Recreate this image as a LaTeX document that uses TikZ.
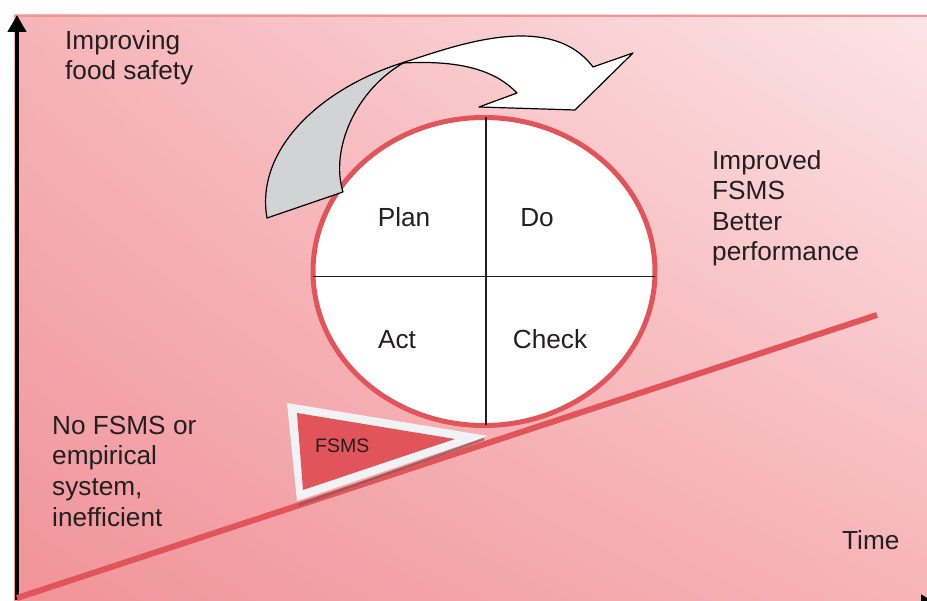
\documentclass[tikz,border=0pt]{standalone}
\usepackage{fontspec}
\setmainfont{Liberation Sans}
\usetikzlibrary{shapes.geometric,arrows.meta,shadings}
\definecolor{pdred}{RGB}{225,85,90}
\definecolor{txtc}{RGB}{35,31,32}
\definecolor{bgll}{RGB}{240,148,153}
\definecolor{bgul}{RGB}{246,180,184}
\definecolor{bglr}{RGB}{247,180,183}
\definecolor{bgur}{RGB}{252,228,230}
\definecolor{topline}{RGB}{240,150,150}
\definecolor{arrgrey}{RGB}{209,211,212}
\definecolor{trwhite}{RGB}{241,242,243}
\definecolor{shadowc}{RGB}{150,85,85}
\begin{document}
\begin{tikzpicture}[x=1pt,y=-1pt,
  txt/.style={text=txtc, font=\fontsize{26.2}{30.6}\selectfont, inner sep=0pt, align=left},
  ribbon/.style={draw=black, line width=1.2pt, line join=round},
  axisline/.style={draw=black, line width=4.5pt, -{Triangle[length=17pt,width=18pt]}},
  slope/.style={draw=pdred, line width=6pt},
  cross/.style={draw=txtc, line width=1.3pt}]
\useasboundingbox (0,0) rectangle (927,601);
\clip (0,0) rectangle (927,601);
% background
\shade[upper left=bgul, upper right=bgur, lower left=bgll, lower right=bglr] (14,15) rectangle (927,601);
\draw[topline, line width=2pt] (14,16) -- (927,16);
% axes
\coordinate (o) at (17,600);
\coordinate (ytop) at (17,15);
\coordinate (xo) at (17,604);
\coordinate (xend) at (938,604);
\draw[axisline] (xo) -- (xend);
\draw[axisline] (o) -- (ytop);
% slope line
\coordinate (s0) at (17,598);
\coordinate (s1) at (877,315);
\draw[slope] (s0) -- (s1);
% FSMS triangle
\draw[shadowc, line width=2.5pt, opacity=0.8] (299,505) -- (484,439);
\fill[trwhite] (287,403) -- (297,501) -- (488,436) -- cycle;
\fill[pdred] (297,413) -- (303,490) -- (455,439) -- cycle;
\node[text=txtc, font=\fontsize{19.5}{22}\selectfont, inner sep=0pt, anchor=base west] (fsms) at (315,453) {FSMS};
% PDCA circle
\node[ellipse, draw=pdred, fill=white, line width=5pt, minimum width=342pt, minimum height=308pt, inner sep=0pt] (cyc) at (484,271.5) {};
\draw[cross] ([xshift=2pt,yshift=-2.5pt]cyc.north) -- ([xshift=2pt,yshift=2.5pt]cyc.south);
\draw[cross] ([xshift=2.5pt,yshift=-5pt]cyc.west) -- ([xshift=-2.5pt,yshift=-5pt]cyc.east);
\node[txt, anchor=base] (plan) at (404,227) {Plan};
\node[txt, anchor=base] (do) at (537,227) {Do};
\node[txt, anchor=base] (act) at (397,349) {Act};
\node[txt, anchor=base] (check) at (550,349) {Check};
% curved ribbon arrow
\filldraw[ribbon, fill=white] (405,62) .. controls (455,46) and (550,10) .. (593,67)
  -- (633,53) -- (575,110) -- (479,107) -- (517,93)
  .. controls (495,70) and (460,60) .. (403,63) -- cycle;
\filldraw[ribbon, fill=arrgrey] (267,218) .. controls (255,150) and (320,88) .. (405,62)
  .. controls (355,90) and (330,150) .. (343,192) -- cycle;
% texts (base anchor = last line's baseline)
\node[txt, anchor=base west] (imp) at (65,80) {Improving\\food safety};
\node[txt, anchor=base west] (impd) at (712,261) {Improved\\FSMS\\Better\\performance};
\node[txt, anchor=base west] (nof) at (52,526) {No FSMS or\\empirical\\system,\\inefficient};
\node[txt, anchor=base west] (time) at (842,550) {Time};
\end{tikzpicture}
\end{document}
